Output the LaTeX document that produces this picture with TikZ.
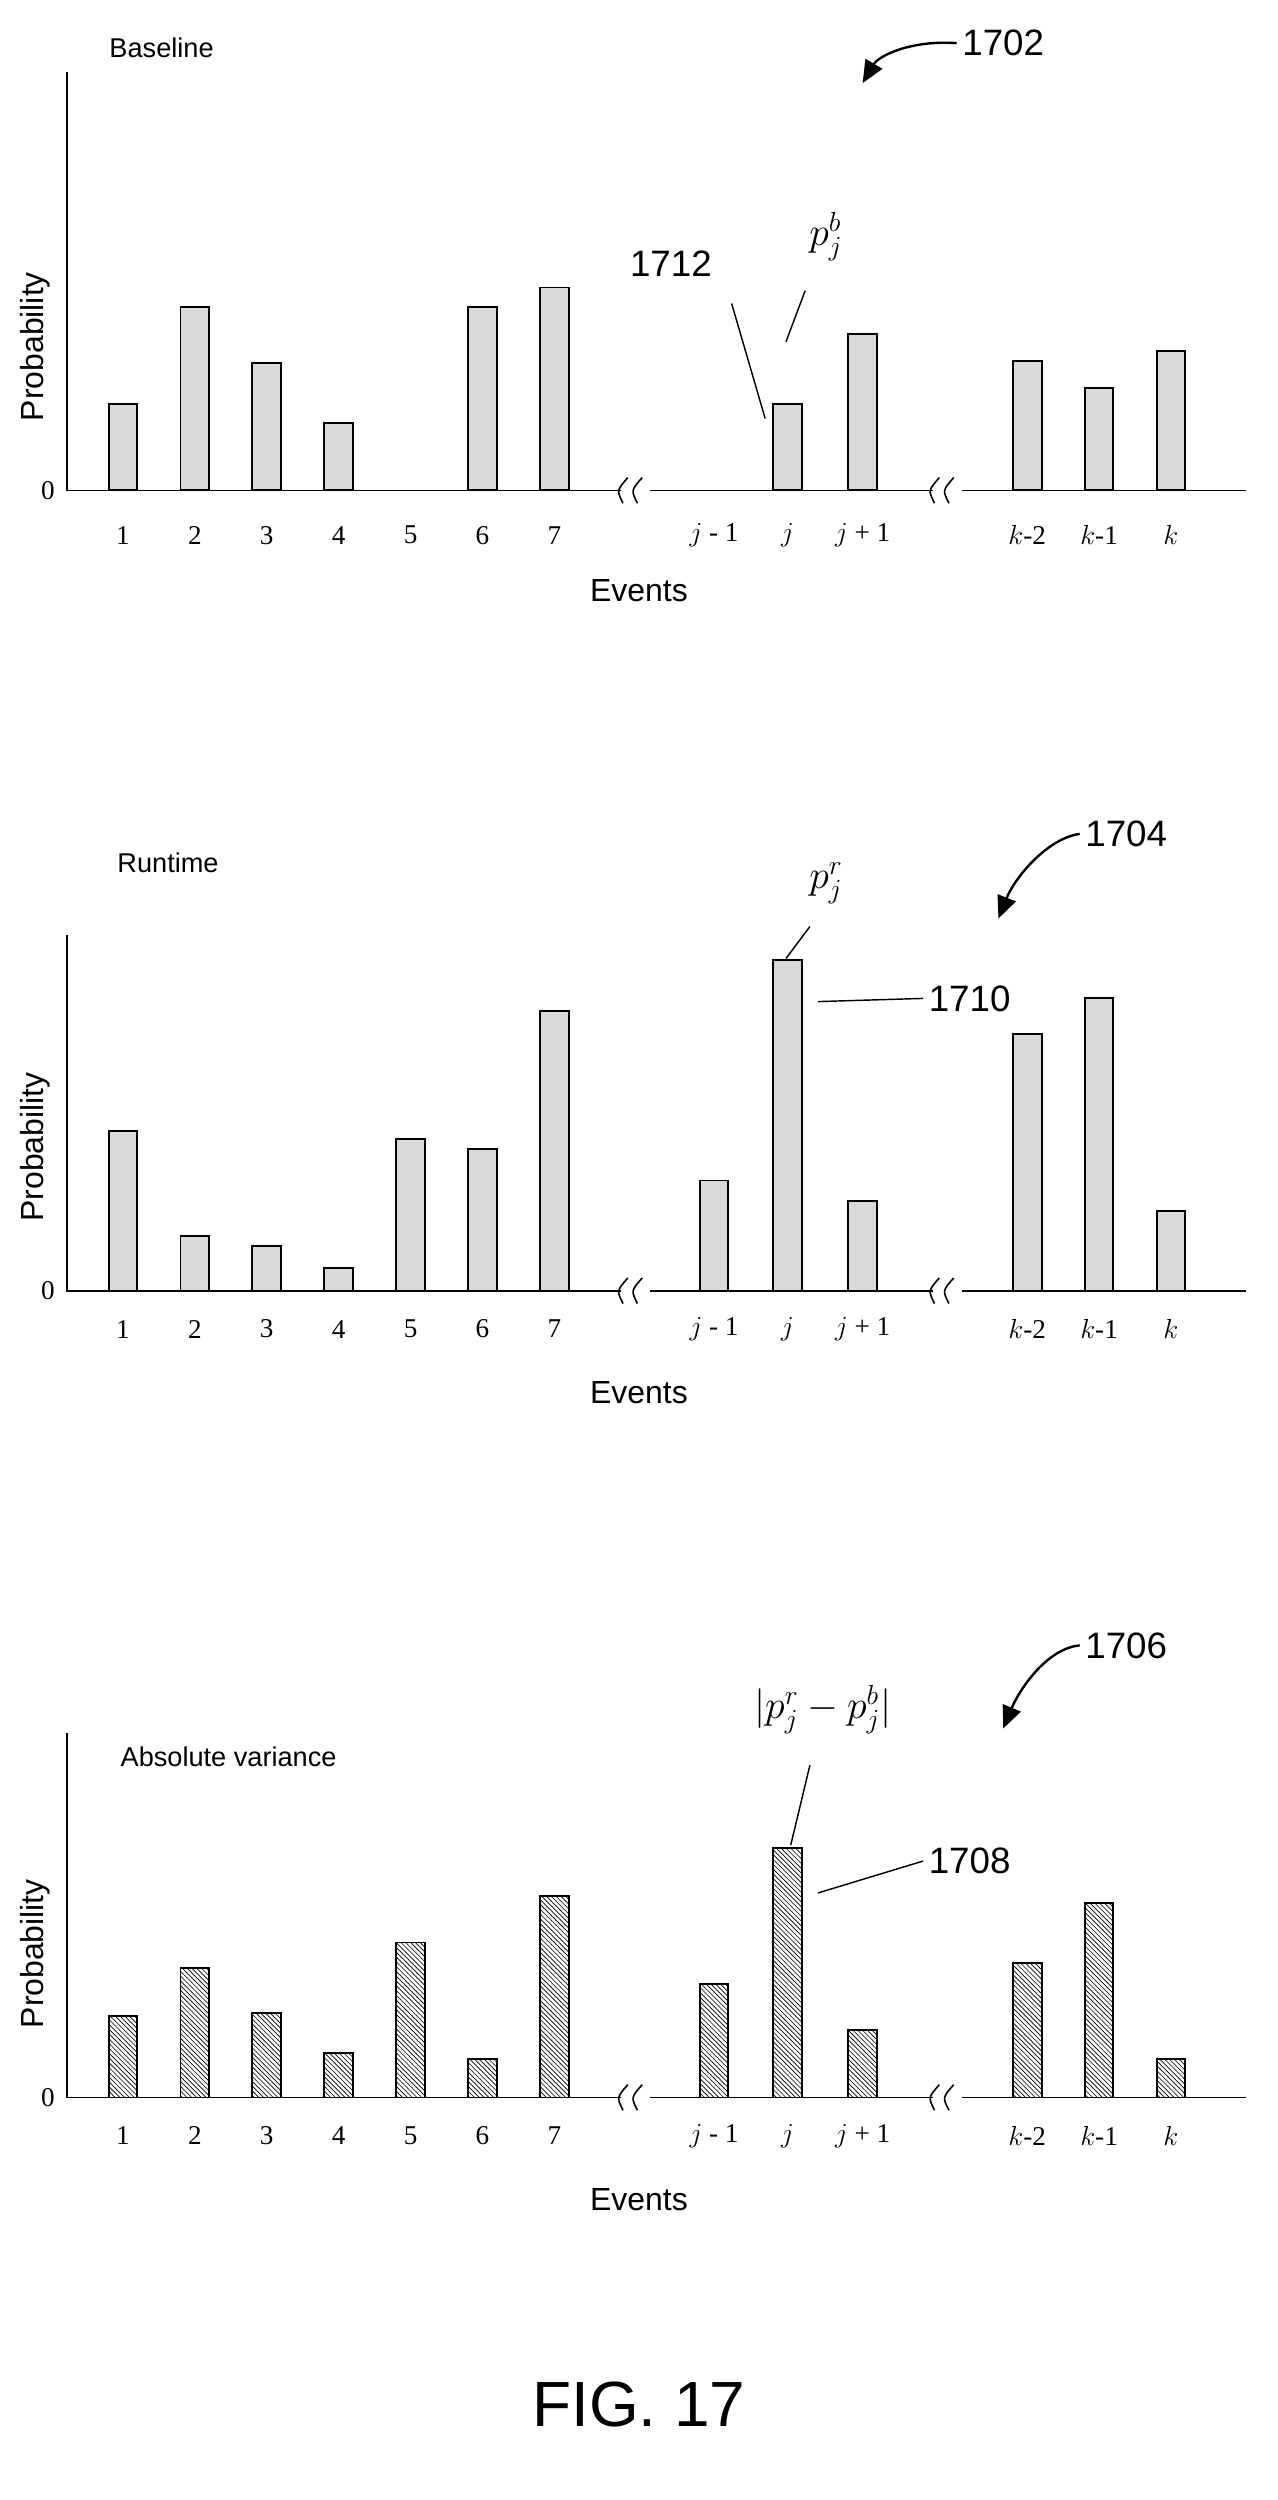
\documentclass[tikz,border=0pt]{standalone}
\usepackage{fontspec}
\setmainfont{Liberation Serif}
\setsansfont{Liberation Sans}
\usetikzlibrary{patterns,arrows.meta}
\tikzset{
 bar/.style={draw=black,line width=1.2pt,fill=black!15},
 hbar/.style={draw=black,line width=1.2pt,pattern=north west lines},
 ax/.style={line width=1pt},
 tick/.style={font=\fontsize{17}{17}\selectfont},
 lbl/.style={font=\sffamily\fontsize{20}{20}\selectfont},
 ttl/.style={font=\sffamily\fontsize{17}{17}\selectfont,anchor=west},
 ref/.style={font=\sffamily\fontsize{23}{23}\selectfont},
 mth/.style={font=\fontsize{25}{25}\selectfont},
 lead/.style={line width=0.9pt},
 callarrow/.style={line width=1.5pt,-{Triangle[length=14pt,width=12pt]}}
}
\begin{document}
\begin{tikzpicture}[x=1pt,y=-1pt]
\useasboundingbox[fill=white] (0,0) rectangle (800,1565);
\newcommand{\mypanel}[4]{% #1 base y, #2 top y, #3 label y, #4 events y
 \draw[ax] (42,#2) -- (42,#1) -- (780,#1);
 \node[tick] at (30,#1) {0};
 \node[lbl,rotate=90] at (22,{#1-90}) {Probability};
 \node[lbl] at (400,#4) {Events};
 \foreach \xx in {398,593}{
  \fill[white] (\xx-9,#1-6) rectangle (\xx+9,#1+6);
  \draw[line width=1pt] (\xx-8,#1+8) .. controls (\xx-12,#1) .. (\xx-5,#1-8);
  \draw[line width=1pt] (\xx+1,#1+8) .. controls (\xx-3,#1) .. (\xx+4,#1-8);
 }
 \foreach \lx/\lt in {77/1,122/2,167/3,212/4,257/5,302/6,347/7,447/{$j$ - 1},493/$j$,540/{$j$ + 1},643/{$k$-2},688/{$k$-1},733/$k$}
  \node[tick] at (\lx,#3) {\lt};
}
% Panel 1
\mypanel{307}{45}{335}{370}
\node[ttl] at (65,30) {Baseline};
\foreach \bx/\by in {77/253,122/192,167/227,212/265,302/192,347/180,493/253,540/209,643/226,688/243,733/220}
 \draw[bar] (\bx-9,307) rectangle (\bx+9,\by);
\node[ref] (n1702) at (628,27) {1702};
\coordinate (a1702) at (540,52);
\draw[callarrow] (n1702.west) .. controls (570,25) and (550,35) .. (a1702);
\node[ref] (n1712) at (420,165) {1712};
\draw[lead] (458,190) -- (479,262);
\node[mth] (pb) at (517,148) {$p_j^b$};
\draw[lead] (504,182) -- (492,214);
% Panel 2
\mypanel{808}{585}{832}{872}
\node[ttl] at (70,540) {Runtime};
\foreach \bx/\by in {77/708,122/774,167/780,212/794,257/713,302/719,347/633,447/739,493/601,540/752,643/647,688/625,733/758}
 \draw[bar] (\bx-9,808) rectangle (\bx+9,\by);
\node[ref] (n1704) at (705,522) {1704};
\coordinate (a1704) at (625,575);
\draw[callarrow] (n1704.west) .. controls (655,525) and (635,550) .. (a1704);
\node[mth] (pr) at (517,553) {$p_j^r$};
\draw[lead] (507,580) -- (492,600);
\node[ref] (n1710) at (607,625) {1710};
\draw[lead] (512,627) -- (n1710.west);
% Panel 3
\mypanel{1313}{1085}{1337}{1377}
\node[ttl] at (72,1100) {Absolute variance};
\foreach \bx/\by in {77/1262,122/1232,167/1260,212/1285,257/1216,302/1289,347/1187,447/1242,493/1157,540/1271,643/1229,688/1191,733/1289}
 \draw[hbar] (\bx-9,1313) rectangle (\bx+9,\by);
\node[ref] (n1706) at (705,1030) {1706};
\coordinate (a1706) at (628,1082);
\draw[callarrow] (n1706.west) .. controls (655,1032) and (638,1058) .. (a1706);
\node[mth] (pd) at (515,1070) {$\bigl|p_j^r - p_j^b\bigr|$};
\draw[lead] (507,1105) -- (495,1155);
\node[ref] (n1708) at (607,1165) {1708};
\draw[lead] (512,1185) -- (n1708.west);
\node[font=\sffamily\fontsize{40}{40}\selectfont] (fig) at (400,1505) {FIG. 17};
\end{tikzpicture}
\end{document}
